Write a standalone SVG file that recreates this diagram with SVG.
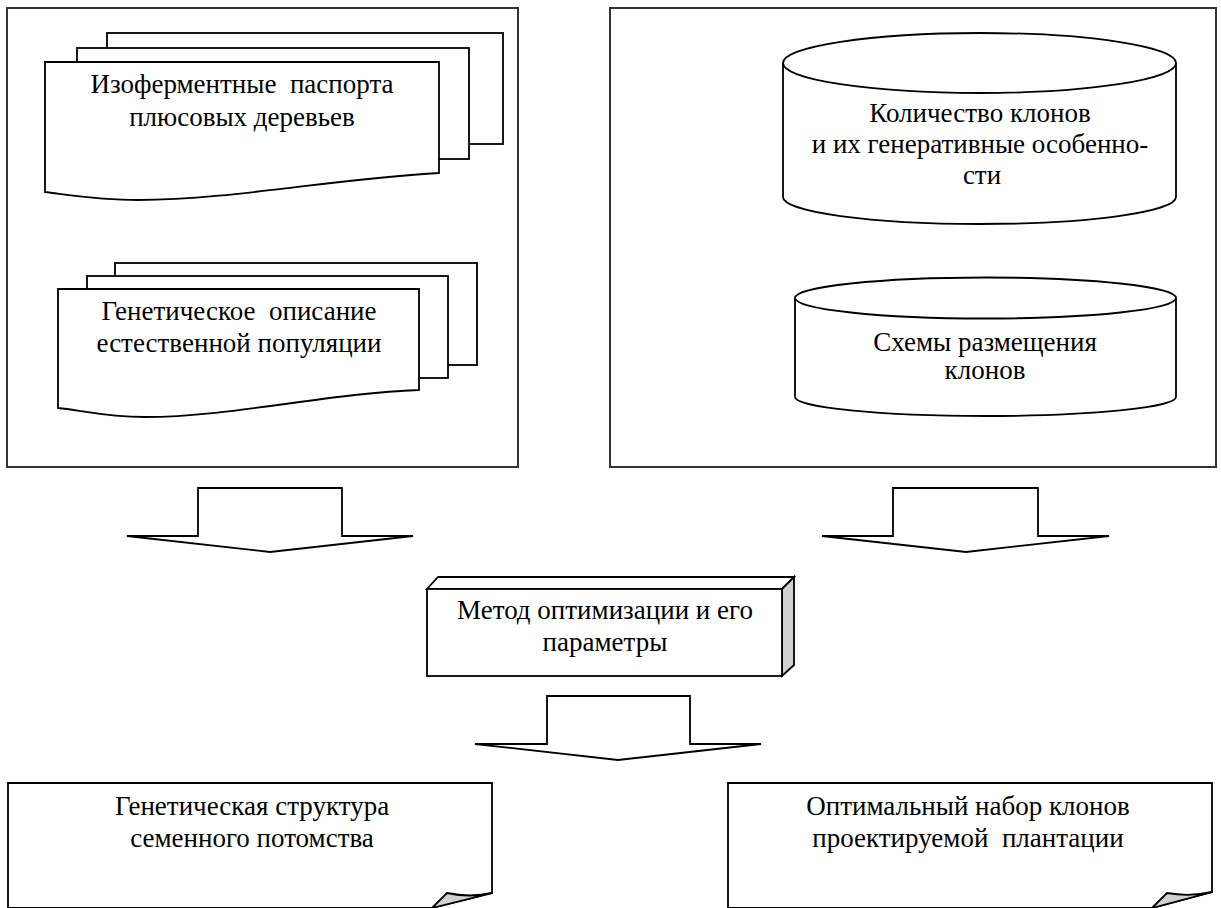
<svg xmlns="http://www.w3.org/2000/svg" width="1221" height="908" viewBox="0 0 1221 908">
<style>
.frame{fill:#fff;stroke:#333;stroke-width:2}
.sh{fill:#fff;stroke:#000;stroke-width:1.8;stroke-linejoin:miter}
.shade{fill:#d0d0d0;stroke:#000;stroke-width:1.8;stroke-linejoin:round}
.t{font-family:"Liberation Serif","Times New Roman",serif;font-size:27px;fill:#000;text-anchor:middle;white-space:pre}
.arr{fill:#fff;stroke:#000;stroke-width:1.8;stroke-linejoin:miter}
</style>
<rect width="1221" height="908" fill="#fff"/>

<g id="frame-left"><rect class="frame" x="7" y="8" width="511" height="459"/></g>
<g id="frame-right"><rect class="frame" x="610" y="8" width="606" height="459"/></g>

<g id="doc-isoenzyme">
  <rect class="sh" x="107" y="33" width="396" height="111"/>
  <rect class="sh" x="77" y="48" width="392" height="111"/>
  <path class="sh" d="M45,62 H439 V173 C340,178 230,200 138,200 C100,200 70,195 45,192 Z"/>
  <text class="t" x="242" y="93">Изоферментные  паспорта</text>
  <text class="t" x="242" y="126">плюсовых деревьев</text>
</g>

<g id="doc-genetic">
  <rect class="sh" x="115" y="263" width="362" height="102"/>
  <rect class="sh" x="87" y="276" width="361" height="102"/>
  <path class="sh" d="M58,289 H419 V390 C330,393 230,417 145,417 C105,417 80,410 58,408 Z"/>
  <text class="t" x="239" y="320">Генетическое  описание</text>
  <text class="t" x="239" y="352">естественной популяции</text>
</g>

<g id="db-clones">
  <path class="sh" d="M783,63 V197 A196.5,27 0 0 0 1176,197 V63"/>
  <ellipse class="sh" cx="979.5" cy="63" rx="196.5" ry="30"/>
  <text class="t" x="980" y="122">Количество клонов</text>
  <text class="t" x="980" y="153">и их генеративные особенно-</text>
  <text class="t" x="982" y="184">сти</text>
</g>

<g id="db-schemes">
  <path class="sh" d="M795,298 V397 A190.5,19 0 0 0 1176,397 V298"/>
  <ellipse class="sh" cx="985.5" cy="298" rx="190.5" ry="20.5"/>
  <text class="t" x="985" y="351">Схемы размещения</text>
  <text class="t" x="985" y="379">клонов</text>
</g>

<g id="connectors">
  <polygon class="arr" points="198,488 342,488 342,536 413,536 270,552 127,536 198,536"/>
  <polygon class="arr" points="893,488 1038,488 1038,536 1109,536 966,552 822,536 893,536"/>
  <polygon class="arr" points="547,696 690,696 690,744 761,744 618,760 475,744 547,744"/>
</g>

<g id="method">
  <polygon class="sh" points="427,589 438,577 794,577 782,589"/>
  <polygon class="shade" points="782,589 794,577 794,665 782,676" style="stroke-linejoin:miter"/>
  <rect class="sh" x="427" y="589" width="355" height="87"/>
  <text class="t" x="605" y="619">Метод оптимизации и его</text>
  <text class="t" x="605" y="651">параметры</text>
</g>

<g id="result-genetic">
  <path class="sh" d="M8,783 H492 V893 L432,908 H8 Z"/>
  <path class="shade" d="M432,908 L447,893 Q470,898 492,893 Z"/>
  <text class="t" x="252" y="815">Генетическая структура</text>
  <text class="t" x="252" y="847">семенного потомства</text>
</g>

<g id="result-clones">
  <path class="sh" d="M728,783 H1212 V892 L1152,908 H728 Z"/>
  <path class="shade" d="M1152,908 L1167,893 Q1190,897 1212,892 Z"/>
  <text class="t" x="968" y="815">Оптимальный набор клонов</text>
  <text class="t" x="968" y="847">проектируемой  плантации</text>
</g>
</svg>
